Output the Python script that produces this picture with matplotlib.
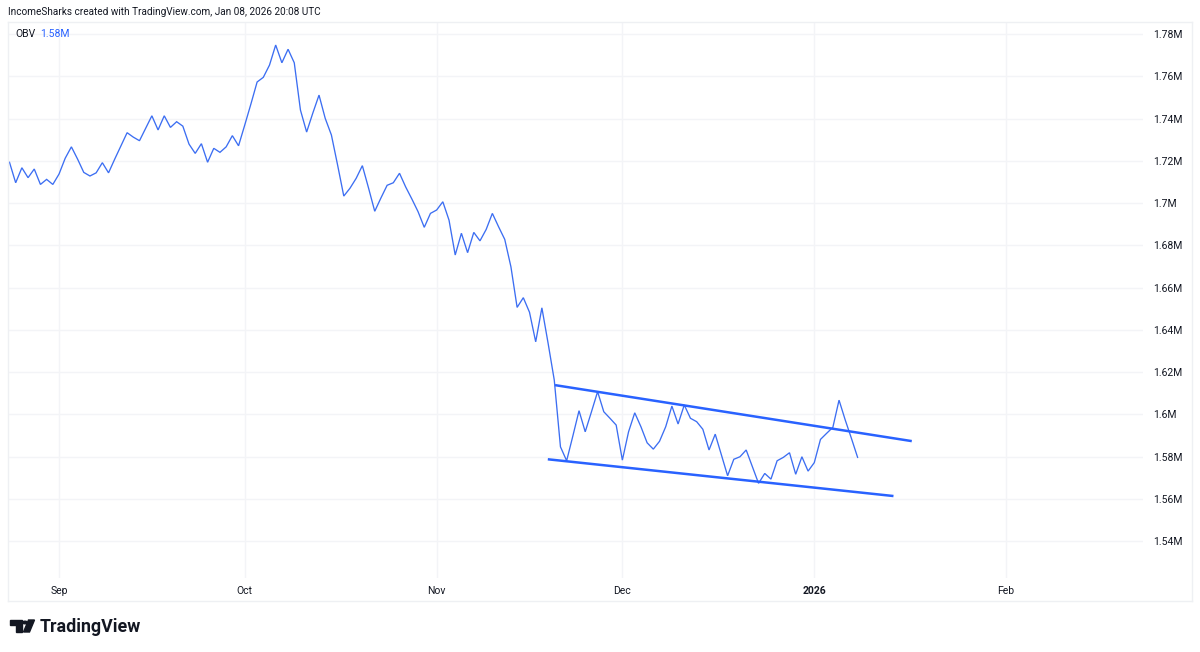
"""
OBV chart with descending channel, TradingView style.
"""
import numpy as np
import pandas as pd
import matplotlib
matplotlib.use("Agg")
import matplotlib.pyplot as plt
from matplotlib.patches import Polygon, Circle

# ---------------- data ----------------
dates = pd.date_range("2025-08-24", "2026-01-08", freq="D")
obv = [
    1.7193, 1.7096, 1.7167, 1.7120, 1.7161, 1.7088, 1.7112, 1.7088,   # Aug 24-31
    1.7137, 1.7212, 1.7266, 1.7208, 1.7145, 1.7128, 1.7143, 1.7191,   # Sep 1-8
    1.7143, 1.7208, 1.7270, 1.7333, 1.7312, 1.7295, 1.7354, 1.7413,
    1.7346, 1.7413, 1.7358, 1.7385, 1.7364, 1.7279, 1.7235, 1.7281,
    1.7193, 1.7259, 1.7240, 1.7266, 1.7319, 1.7271,                   # .. Sep 30
    1.7369, 1.7469, 1.7573, 1.7595, 1.7653, 1.7748, 1.7664, 1.7728,   # Oct 1-8
    1.7664, 1.7440, 1.7336, 1.7426, 1.7511, 1.7401, 1.7322, 1.7180,
    1.7033, 1.7070, 1.7117, 1.7177, 1.7071, 1.6961, 1.7024, 1.7084,
    1.7096, 1.7141, 1.7076, 1.7019, 1.6959, 1.6885, 1.6951,           # .. Oct 31
    1.6967, 1.7006, 1.6919, 1.6754, 1.6857, 1.6765, 1.6861, 1.6821,   # Nov 1-8
    1.6875, 1.6951, 1.6888, 1.6828, 1.6698, 1.6506, 1.6552, 1.6483,
    1.6343, 1.6504, 1.6337, 1.6162, 1.5846, 1.5780, 1.5897, 1.6017,
    1.5917, 1.6011, 1.6107, 1.6012, 1.5981, 1.5949,                   # .. Nov 30
    1.5783, 1.5917, 1.6007, 1.5941, 1.5865, 1.5835, 1.5872, 1.5941,   # Dec 1-8
    1.6039, 1.5954, 1.6044, 1.5981, 1.5965, 1.5929, 1.5831, 1.5906,
    1.5807, 1.5709, 1.5787, 1.5799, 1.5831, 1.5752, 1.5673, 1.5720,
    1.5693, 1.5780, 1.5796, 1.5818, 1.5716, 1.5799, 1.5731,           # .. Dec 31
    1.5771, 1.5881, 1.5910, 1.5938, 1.6067, 1.5973, 1.5886, 1.5796,   # Jan 1-8
]

# channel lines drawn on the chart
upper_dates = pd.to_datetime(["2025-11-20 03:00", "2026-01-16 18:00"])
upper_vals = [1.6138, 1.5873]
lower_dates = pd.to_datetime(["2025-11-18 23:00", "2026-01-13 19:00"])
lower_vals = [1.5787, 1.5613]

yticks = [1.54, 1.56, 1.58, 1.60, 1.62, 1.64, 1.66, 1.68, 1.70, 1.72, 1.74, 1.76, 1.78]
month_ticks = pd.to_datetime(["2025-09-01", "2025-10-01", "2025-11-01",
                              "2025-12-01", "2026-01-01", "2026-02-01"])
month_labels = ["Sep", "Oct", "Nov", "Dec", "2026", "Feb"]

# ---------------- style ----------------
plt.rcParams['font.family'] = ['Roboto', 'DejaVu Sans']
BLUE = '#2962FF'
LINE = '#3c6ef2'
GRID = '#f3f4f7'
TXT = '#131722'

W, H = 1200, 652
fig = plt.figure(figsize=(W / 100, H / 100), dpi=100)
fig.patch.set_facecolor('white')

def fx(px):
    return px / W

def fy(py):
    return 1 - py / H

ax = fig.add_axes([fx(8), fy(578), fx(1143 - 8), (578 - 22) / H])
ax.set_facecolor('white')

ax.plot(dates, obv, color=LINE, lw=0.95, solid_joinstyle='miter')
ax.plot(upper_dates, upper_vals, color=BLUE, lw=1.8, solid_capstyle='butt')
ax.plot(lower_dates, lower_vals, color=BLUE, lw=1.8, solid_capstyle='butt')

x0 = pd.Timestamp("2025-09-01")
ax.set_xlim(x0 - pd.Timedelta(days=8.24), x0 + pd.Timedelta(days=175.1))
ax.set_ylim(1.5225, 1.7857)

ax.set_yticks(yticks)
ax.set_yticklabels([f"{v:g}M" for v in yticks])
ax.yaxis.tick_right()
ax.tick_params(axis='y', length=0, pad=7.2, labelsize=7.5, colors=TXT)

ax.set_xticks(month_ticks)
ax.set_xticklabels(month_labels)
ax.tick_params(axis='x', length=0, pad=5.5, labelsize=7.5, colors=TXT)
for lab in ax.get_xticklabels():
    if lab.get_text() == "2026":
        lab.set_fontweight('bold')

ax.grid(True, color=GRID, lw=1.0)
ax.set_axisbelow(True)
for s in ax.spines.values():
    s.set_visible(False)

# panel borders
border = '#eef0f3'
fig.add_artist(plt.Line2D([fx(8), fx(1192)], [fy(22), fy(22)], color=border, lw=1))
fig.add_artist(plt.Line2D([fx(8), fx(1192)], [fy(601), fy(601)], color=border, lw=1))
fig.add_artist(plt.Line2D([fx(8), fx(8)], [fy(22), fy(601)], color=border, lw=1))
fig.add_artist(plt.Line2D([fx(1192), fx(1192)], [fy(22), fy(601)], color=border, lw=1))

# header + legend
fig.text(fx(8), fy(12), "IncomeSharks created with TradingView.com, Jan 08, 2026 20:08 UTC",
         fontsize=7.2, color=TXT, va='center', ha='left')
fig.text(fx(15), fy(34), "OBV", fontsize=7.5, color=TXT, va='center', ha='left')
fig.text(fx(40), fy(34), "1.58M", fontsize=7.5, color=BLUE, va='center', ha='left')

# TradingView logo
fig.add_artist(Polygon([(fx(10), fy(620)), (fx(22), fy(620)), (fx(22), fy(632)),
                        (fx(16), fy(632)), (fx(16), fy(625)), (fx(10), fy(625))],
                       closed=True, color=TXT, transform=fig.transFigure))
fig.add_artist(Circle((fx(25), fy(622.5)), 2.4 / W, color=TXT, transform=fig.transFigure))
fig.add_artist(Polygon([(fx(28.5), fy(620)), (fx(34.5), fy(620)), (fx(29.5), fy(632)), (fx(23.5), fy(632))],
                       closed=True, color=TXT, transform=fig.transFigure))
fig.text(fx(40), fy(626.5), "TradingView", fontsize=12.8, fontweight='bold', color=TXT,
         va='center', ha='left')

fig.savefig("out.png", dpi=100, facecolor='white')
